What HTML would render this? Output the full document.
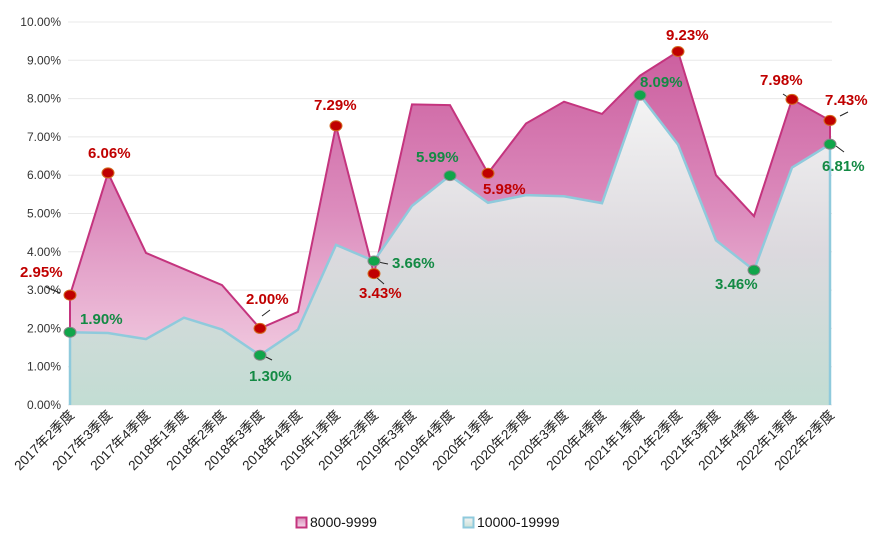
<!DOCTYPE html>
<html><head><meta charset="utf-8"><style>
body{margin:0;background:#fff;width:885px;height:540px;overflow:hidden}
svg{display:block;font-family:"Liberation Sans","Noto Sans CJK SC",sans-serif}
</style></head><body>
<svg id="c" width="885" height="540" xmlns="http://www.w3.org/2000/svg">
<defs>
<linearGradient id="gp" x1="0" y1="0" x2="0" y2="1"><stop offset="0" stop-color="#cc5f9f"/><stop offset="0.45" stop-color="#dc8cbd"/><stop offset="1" stop-color="#f7dcea"/></linearGradient>
<linearGradient id="gb" x1="0" y1="0" x2="0" y2="1"><stop offset="0" stop-color="#f4f4f4"/><stop offset="0.5" stop-color="#dcd9de"/><stop offset="1" stop-color="#c2ddd3"/></linearGradient>
<linearGradient id="lp" x1="0" y1="0" x2="0" y2="1"><stop offset="0" stop-color="#d88ab8"/><stop offset="1" stop-color="#f5d9ea"/></linearGradient>
<linearGradient id="lb" x1="0" y1="0" x2="0" y2="1"><stop offset="0" stop-color="#f4f4f4"/><stop offset="1" stop-color="#c9e1d8"/></linearGradient>
</defs>
</svg>
<script>
var s=document.getElementById('c'),ns='http://www.w3.org/2000/svg';
function el(t,a,txt){var e=document.createElementNS(ns,t);for(var k in a)e.setAttribute(k,a[k]);if(txt!=null)e.textContent=txt;s.appendChild(e);return e;}
var Y=function(v){return 405-v*38.3},X=function(i){return 70+i*38};
for(var i=0;i<=10;i++){var y=Y(i);el('line',{x1:68,x2:832,y1:y,y2:y,stroke:'#e8e8e8','stroke-width':1});
el('text',{x:61,y:y+4,'text-anchor':'end','font-size':12,fill:'#333'},i.toFixed(2)+'%');}
var A=[2.87,6.06,3.97,3.55,3.13,2.00,2.43,7.29,3.43,7.85,7.83,6.05,7.35,7.92,7.60,8.6,9.23,6.0,4.93,7.98,7.43];
var B=[1.90,1.88,1.72,2.28,1.97,1.30,1.97,4.18,3.76,5.2,5.99,5.28,5.48,5.45,5.27,8.09,6.8,4.3,3.52,6.2,6.81];
function pts(d){return d.map(function(v,i){return X(i)+','+Y(v)}).join(' ');}
el('polygon',{points:X(0)+',405 '+pts(A)+' '+X(20)+',405',fill:'url(#gp)'});
el('polygon',{points:X(0)+',405 '+pts(B)+' '+X(20)+',405',fill:'url(#gb)'});
el('polyline',{points:X(0)+',405 '+pts(A)+' '+X(20)+',405',fill:'none',stroke:'#c4347e','stroke-width':2});
el('polyline',{points:X(0)+',405 '+pts(B)+' '+X(20)+',405',fill:'none',stroke:'#8fcadc','stroke-width':2.5});
var q=['2017年2季度','2017年3季度','2017年4季度','2018年1季度','2018年2季度','2018年3季度','2018年4季度','2019年1季度','2019年2季度','2019年3季度','2019年4季度','2020年1季度','2020年2季度','2020年3季度','2020年4季度','2021年1季度','2021年2季度','2021年3季度','2021年4季度','2022年1季度','2022年2季度'];
q.forEach(function(t,i){var x=X(i)+5,y=416;el('text',{x:x,y:y,'text-anchor':'end','font-size':13.5,fill:'#222',transform:'rotate(-45 '+x+' '+y+')'},t);});
var R=[[0,'2.95%',20,277,[46,287,60,293]],[1,'6.06%',88,158],[5,'2.00%',246,304,[262,316,270,310]],[7,'7.29%',314,110],[8,'3.43%',359,298,[376,277,384,284]],[11,'5.98%',483,194],[16,'9.23%',666,40],[19,'7.98%',760,85,[783,94,789,98]],[20,'7.43%',825,105,[840,116,848,112]]];
var G=[[0,'1.90%',80,324],[5,'1.30%',249,381,[262,355,272,360]],[8,'3.66%',392,268,[378,262,388,264]],[10,'5.99%',416,162],[15,'8.09%',640,87],[18,'3.46%',715,289],[20,'6.81%',822,171,[836,146,844,152]]];
function lead(l){if(l)el('line',{x1:l[0],y1:l[1],x2:l[2],y2:l[3],stroke:'#222','stroke-width':1});}
R.forEach(function(r){lead(r[4]);});G.forEach(function(r){lead(r[4]);});
R.forEach(function(r){el('ellipse',{cx:X(r[0]),cy:Y(A[r[0]]),rx:6,ry:5,fill:'#c00000',stroke:'#d2691e','stroke-width':1});
el('text',{x:r[2],y:r[3],'font-size':15,'font-weight':'bold',fill:'#c00000'},r[1]);});
G.forEach(function(r){el('ellipse',{cx:X(r[0]),cy:Y(B[r[0]]),rx:6,ry:5,fill:'#10a54a',stroke:'#888','stroke-width':1});
el('text',{x:r[2],y:r[3],'font-size':15,'font-weight':'bold',fill:'#138a44'},r[1]);});
el('rect',{x:296.5,y:517.5,width:10,height:10,fill:'url(#lp)',stroke:'#c4347e','stroke-width':2});
el('text',{x:310,y:527,'font-size':14,fill:'#111'},'8000-9999');
el('rect',{x:463.5,y:517.5,width:10,height:10,fill:'url(#lb)',stroke:'#8fcadc','stroke-width':2});
el('text',{x:477,y:527,'font-size':14,fill:'#111'},'10000-19999');
</script>
</body></html>
